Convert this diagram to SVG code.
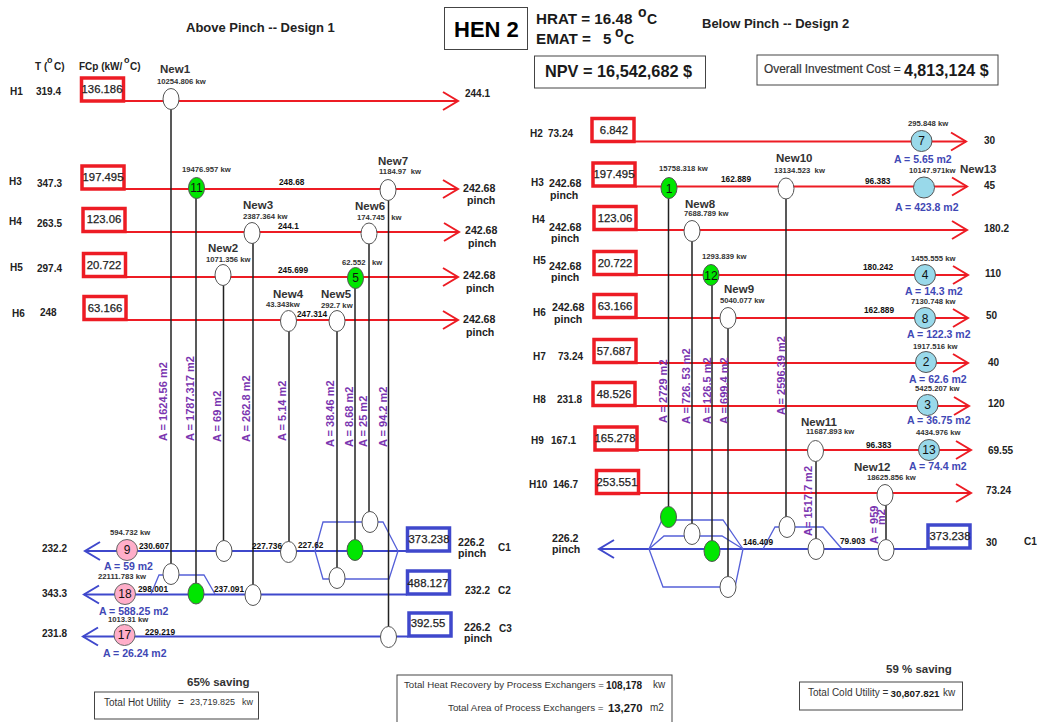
<svg xmlns="http://www.w3.org/2000/svg" width="1038" height="722" viewBox="0 0 1038 722">
<style>
text{font-family:"Liberation Sans",Arial,sans-serif;fill:#1a1a1a;white-space:pre}
.b{font-weight:bold}
.t{font-size:13px;font-weight:bold;fill:#222}
.s{font-size:10px;font-weight:bold;fill:#222}
.q{font-size:10.6px;font-weight:bold;fill:#222}
.k{font-size:7.7px;font-weight:bold;fill:#333}
.n{font-size:11.5px;font-weight:bold;fill:#333}
.m{font-size:8.3px;font-weight:bold;fill:#111}
.a{font-size:10.5px;font-weight:bold;fill:#3F48B5}
.p{font-size:11px;font-weight:bold;fill:#7A35B0}
.f{font-size:11.300px;fill:#222;stroke:#222;stroke-width:.25;text-anchor:middle}
.e{font-size:12px;text-anchor:middle;fill:#111}
.l{font-size:10px;fill:#333}
.r{fill:#fff;stroke:#ED1C24;stroke-width:3.5}
.u{fill:#fff;stroke:#3F48CC;stroke-width:3.5}
.x{fill:#fff;stroke:#444;stroke-width:1}
.hot{stroke:#ED1C24;stroke-width:2;fill:none;marker-end:url(#ra)}
.cold{stroke:#3F48CC;stroke-width:2;fill:none;marker-end:url(#ba)}
.byp{stroke:#5560D8;stroke-width:1.3;fill:none}
.link{stroke:#222;stroke-width:1.5;fill:none}
.w{fill:#fff;stroke:#555;stroke-width:1}
.g{fill:#00E600;stroke:#555;stroke-width:1}
.pk{fill:#FFAEC9;stroke:#666;stroke-width:1}
.c{fill:#99D9EA;stroke:#555;stroke-width:1}
</style>
<defs>
<marker id="ra" markerUnits="userSpaceOnUse" markerWidth="20" markerHeight="22" viewBox="-17 -11 20 22" refX="0" refY="0" orient="auto"><path d="M-15,-9 L0,0 L-15,9" fill="none" stroke="#ED1C24" stroke-width="2"/></marker>
<marker id="ba" markerUnits="userSpaceOnUse" markerWidth="20" markerHeight="22" viewBox="-17 -11 20 22" refX="0" refY="0" orient="auto"><path d="M-15,-9 L0,0 L-15,9" fill="none" stroke="#3F48CC" stroke-width="2"/></marker>
</defs>
<rect width="1038" height="722" fill="#fff"/>

<g id="connectors">
<line class="hot" x1="124" y1="101" x2="458" y2="101"/>
<line class="hot" x1="124" y1="189" x2="458" y2="189"/>
<line class="hot" x1="125" y1="232" x2="459" y2="232"/>
<line class="hot" x1="126" y1="277" x2="458" y2="277"/>
<line class="hot" x1="126" y1="320" x2="458" y2="320"/>
<line class="cold" x1="407" y1="551" x2="85" y2="551"/>
<line class="cold" x1="407" y1="594.5" x2="84" y2="594.5"/>
<line class="cold" x1="408" y1="636.5" x2="83" y2="636.5"/>
<polygon class="byp" points="315,551 323,522 383,522 398,551 389,579 323,579"/>
<polyline class="byp" points="151,594 159,575 204,575 215,594"/>
<line class="link" x1="171" y1="99" x2="171" y2="574"/>
<line class="link" x1="196" y1="188" x2="196" y2="594"/>
<line class="link" x1="223.500" y1="275" x2="223.500" y2="551"/>
<line class="link" x1="253" y1="233" x2="253" y2="595"/>
<line class="link" x1="289" y1="321" x2="289" y2="552"/>
<line class="link" x1="337" y1="321" x2="337" y2="578"/>
<line class="link" x1="355" y1="278" x2="355" y2="550"/>
<line class="link" x1="369" y1="233" x2="369" y2="522"/>
<line class="link" x1="388.500" y1="190" x2="388.500" y2="637"/>

<line class="hot" x1="635" y1="141.500" x2="966" y2="141.500"/>
<line class="hot" x1="636" y1="186.500" x2="967" y2="186.500"/>
<line class="hot" x1="637" y1="230" x2="967" y2="230"/>
<line class="hot" x1="637" y1="275" x2="968" y2="275"/>
<line class="hot" x1="637" y1="318" x2="968" y2="318"/>
<line class="hot" x1="637" y1="363" x2="968" y2="363"/>
<line class="hot" x1="636" y1="406" x2="969" y2="406"/>
<line class="hot" x1="637" y1="450" x2="971" y2="450"/>
<line class="hot" x1="639" y1="493" x2="971" y2="493"/>
<line class="cold" x1="927" y1="549" x2="599" y2="549"/>
<polyline class="byp" points="649,549 662,520 723,520 743,549"/>
<polyline class="byp" points="649,549 664,536 722,536 743,549"/>
<polyline class="byp" points="649,549 663,587 735,587 743,549"/>
<polyline class="byp" points="763,549 775,527 823,527 842,549"/>
<line class="link" x1="668.500" y1="188" x2="668.500" y2="517"/>
<line class="link" x1="692" y1="231" x2="692" y2="534"/>
<line class="link" x1="712" y1="275" x2="712" y2="551"/>
<line class="link" x1="728" y1="318" x2="728" y2="587"/>
<line class="link" x1="786" y1="188" x2="786" y2="527"/>
<line class="link" x1="816" y1="451" x2="816" y2="549"/>
<line class="link" x1="886" y1="495" x2="886" y2="550"/>
</g>

<g id="headers">
<text class="t" x="186" y="32">Above Pinch -- Design 1</text>
<text class="t" x="702" y="28">Below Pinch -- Design 2</text>
<text class="s" x="35" y="70">T (</text><text class="s" x="47" y="63" style="font-size:9px">o</text><text class="s" x="54" y="70">C)</text>
<text class="s" x="79" y="70">FCp (kW/</text><text class="s" x="124" y="63" style="font-size:9px">o</text><text class="s" x="130" y="70">C)</text>
</g>

<g id="hen"><rect class="x" x="444.500" y="7.500" width="83" height="42"/><text x="454" y="37" class="b" font-size="22" style="fill:#000">HEN 2</text></g>
<g id="hrat"><text class="b" x="536" y="24" font-size="15.200">HRAT = 16.48</text><text class="b" x="638" y="17" font-size="14">o</text><text class="b" x="647" y="24" font-size="14">C</text>
<text class="b" x="536" y="44" font-size="15.200">EMAT =</text><text class="b" x="603" y="44" font-size="15">5</text><text class="b" x="615" y="37" font-size="14">o</text><text class="b" x="624" y="44" font-size="14">C</text></g>
<g id="npv"><rect class="x" x="534.500" y="56" width="171" height="32"/><text class="b" x="545" y="77" font-size="16.300">NPV = 16,542,682 $</text></g>
<g id="cost"><rect class="x" x="757" y="55" width="241" height="30"/><text x="764" y="73" font-size="11.850" style="fill:#333;stroke:#333;stroke-width:.2">Overall Investment Cost =</text><text class="b" x="904" y="76" font-size="16">4,813,124 $</text></g>

<g id="H1"><rect class="r" x="81.500" y="78" width="42" height="23"/><text class="f" x="102" y="93">136.186</text><text class="s" x="10" y="95">H1</text><text class="s" x="36" y="95">319.4</text><text class="s" x="465" y="97">244.1</text></g>
<g id="H3L"><rect class="r" x="82" y="166" width="42" height="23"/><text class="f" x="103" y="181">197.495</text><text class="s" x="9" y="185">H3</text><text class="s" x="37" y="187">347.3</text><text class="q" x="463" y="192">242.68</text><text class="q" x="467" y="204">pinch</text></g>
<g id="H4L"><rect class="r" x="83" y="208.500" width="42" height="23"/><text class="f" x="104" y="223">123.06</text><text class="s" x="9" y="225">H4</text><text class="s" x="37" y="227">263.5</text><text class="q" x="465" y="234">242.68</text><text class="q" x="468" y="247">pinch</text></g>
<g id="H5L"><rect class="r" x="83.500" y="253.500" width="42" height="23"/><text class="f" x="104" y="269">20.722</text><text class="s" x="10" y="271">H5</text><text class="s" x="37" y="272">297.4</text><text class="q" x="463" y="279">242.68</text><text class="q" x="466" y="292">pinch</text></g>
<g id="H6L"><rect class="r" x="84" y="296.500" width="42" height="23"/><text class="f" x="105" y="312">63.166</text><text class="s" x="12" y="317">H6</text><text class="s" x="40" y="316">248</text><text class="q" x="463" y="323">242.68</text><text class="q" x="466" y="336">pinch</text></g>

<g id="C1L"><rect class="u" x="407.500" y="528" width="42" height="23"/><text class="f" x="429" y="543">373.238</text><text class="q" x="458" y="546">226.2</text><text class="q" x="458" y="557">pinch</text><text class="s" x="498" y="551">C1</text><text class="s" x="42" y="552">232.2</text></g>
<g id="C2L"><rect class="u" x="407.500" y="571" width="42" height="23"/><text class="f" x="428" y="587">488.127</text><text class="s" x="465" y="594">232.2</text><text class="s" x="498" y="594">C2</text><text class="s" x="42" y="597">343.3</text></g>
<g id="C3L"><rect class="u" x="409" y="613" width="42" height="23"/><text class="f" x="428" y="627">392.55</text><text class="q" x="464" y="631">226.2</text><text class="q" x="464" y="642">pinch</text><text class="s" x="499" y="632">C3</text><text class="s" x="42" y="637">231.8</text></g>

<g id="New1"><ellipse class="w" cx="171" cy="99" rx="8" ry="10.500"/><text class="n" x="160" y="73">New1</text><text class="k" x="157" y="84">10254.806 kw</text></g>
<g id="E11"><ellipse class="g" cx="196.500" cy="188" rx="8" ry="10.500"/><text class="e" x="196.500" y="192">11</text><text class="k" x="182" y="172">19476.957 kw</text></g>
<g id="New7"><ellipse class="w" cx="388" cy="190" rx="8" ry="10.500"/><text class="n" x="378" y="165">New7</text><text class="k" x="379" y="174">1184.97  kw</text></g>
<g id="New3"><ellipse class="w" cx="252" cy="233" rx="8" ry="10.500"/><text class="n" x="243" y="209">New3</text><text class="k" x="243" y="219">2387.364 kw</text></g>
<g id="New6"><ellipse class="w" cx="369" cy="233.500" rx="8" ry="10.500"/><text class="n" x="355" y="210">New6</text><text class="k" x="357" y="220">174.745   kw</text></g>
<g id="New2"><ellipse class="w" cx="223" cy="275" rx="8" ry="10.500"/><text class="n" x="208" y="252">New2</text><text class="k" x="206" y="262">1071.356 kw</text></g>
<g id="E5"><ellipse class="g" cx="355.500" cy="278" rx="8" ry="10.500"/><text class="e" x="355.500" y="282">5</text><text class="k" x="342" y="265">62.552   kw</text></g>
<g id="New4"><ellipse class="w" cx="288.500" cy="321" rx="8" ry="10.500"/><text class="n" x="273" y="298">New4</text><text class="k" x="266" y="307">43.343kw</text></g>
<g id="New5"><ellipse class="w" cx="337" cy="321" rx="8" ry="10.500"/><text class="n" x="321" y="298">New5</text><text class="k" x="321" y="308">292.7 kw</text></g>

<g id="E9"><circle class="pk" cx="127" cy="550" r="10.500"/><text class="e" x="127" y="554">9</text><text class="k" x="110" y="535">594.732 kw</text><text class="a" x="104" y="570">A = 59 m2</text></g>
<g id="E18"><circle class="pk" cx="125" cy="594" r="10.500"/><text class="e" x="125" y="598">18</text><text class="k" x="98" y="579">22111.783 kw</text><text class="a" x="99" y="615">A = 588.25 m2</text></g>
<g id="E17"><circle class="pk" cx="124.500" cy="635" r="10.500"/><text class="e" x="124.500" y="639">17</text><text class="k" x="108" y="622">1013.31 kw</text><text class="a" x="103" y="657">A = 26.24 m2</text></g>
<g id="L1"><ellipse class="w" cx="224" cy="551" rx="8" ry="10.500"/></g>
<g id="L2"><ellipse class="w" cx="288.500" cy="552" rx="8" ry="10.500"/></g>
<g id="L3"><ellipse class="g" cx="355" cy="550" rx="8" ry="10.500"/></g>
<g id="L4"><ellipse class="w" cx="370" cy="522" rx="8" ry="10.500"/></g>
<g id="L5"><ellipse class="w" cx="337" cy="578" rx="8" ry="10.500"/></g>
<g id="L6"><ellipse class="w" cx="171" cy="574" rx="8" ry="10.500"/></g>
<g id="L7"><ellipse class="g" cx="196" cy="593.500" rx="8" ry="10.500"/></g>
<g id="L8"><ellipse class="w" cx="253" cy="595" rx="8" ry="10.500"/></g>
<g id="L9"><ellipse class="w" cx="388.500" cy="637" rx="8" ry="10.500"/></g>

<g id="temps-left">
<text class="m" x="279" y="185">248.68</text><text class="m" x="278" y="229">244.1</text><text class="m" x="278" y="273">245.699</text><text class="m" x="297" y="317">247.314</text>
<text class="m" x="139" y="549">230.607</text><text class="m" x="252" y="549">227.736</text><text class="m" x="298" y="548">227.62</text>
<text class="m" x="138" y="592">298.001</text><text class="m" x="214" y="592">237.091</text><text class="m" x="145" y="635">229.219</text>
</g>
<g id="areas-left">
<text class="p" transform="rotate(-90 167 441)" x="167" y="441">A = 1624.56 m2</text>
<text class="p" transform="rotate(-90 194 441)" x="194" y="441">A = 1787.317 m2</text>
<text class="p" transform="rotate(-90 221 442)" x="221" y="442">A = 69 m2</text>
<text class="p" transform="rotate(-90 250 442)" x="250" y="442">A = 262.8 m2</text>
<text class="p" transform="rotate(-90 286 441)" x="286" y="441">A = 5.14 m2</text>
<text class="p" transform="rotate(-90 334 447)" x="334" y="447">A = 38.46 m2</text>
<text class="p" transform="rotate(-90 353 447)" x="353" y="447">A = 8.68 m2</text>
<text class="p" transform="rotate(-90 367 447)" x="367" y="447">A = 25 m2</text>
<text class="p" transform="rotate(-90 387 447)" x="387" y="447">A = 94.2 m2</text>
</g>

<g id="H2"><rect class="r" x="592" y="118.500" width="42" height="23"/><text class="f" x="614" y="134">6.842</text><text class="s" x="530" y="137">H2</text><text class="s" x="548" y="137">73.24</text><text class="s" x="984" y="144">30</text></g>
<g id="H3R"><rect class="r" x="593" y="163" width="42" height="23"/><text class="f" x="614" y="178">197.495</text><text class="s" x="531" y="186">H3</text><text class="q" x="549" y="187">242.68</text><text class="q" x="550" y="199">pinch</text><text class="s" x="984" y="189">45</text></g>
<g id="H4R"><rect class="r" x="594" y="206.500" width="42" height="23"/><text class="f" x="615" y="222">123.06</text><text class="s" x="532" y="223">H4</text><text class="q" x="549" y="231">242.68</text><text class="q" x="551" y="242">pinch</text><text class="s" x="984" y="232">180.2</text></g>
<g id="H5R"><rect class="r" x="594" y="251.500" width="42" height="23"/><text class="f" x="615" y="267">20.722</text><text class="s" x="533" y="264">H5</text><text class="q" x="549" y="270">242.68</text><text class="q" x="551" y="281">pinch</text><text class="s" x="985" y="277">110</text></g>
<g id="H6R"><rect class="r" x="594" y="294.500" width="42" height="23"/><text class="f" x="615" y="310">63.166</text><text class="s" x="533" y="316">H6</text><text class="q" x="552" y="311">242.68</text><text class="q" x="554" y="323">pinch</text><text class="s" x="986" y="319">50</text></g>
<g id="H7"><rect class="r" x="594" y="339.500" width="42" height="23"/><text class="f" x="614" y="355">57.687</text><text class="s" x="533" y="360">H7</text><text class="s" x="558" y="360">73.24</text><text class="s" x="988" y="366">40</text></g>
<g id="H8"><rect class="r" x="593" y="382.500" width="42" height="23"/><text class="f" x="614" y="398">48.526</text><text class="s" x="533" y="403">H8</text><text class="s" x="557" y="403">231.8</text><text class="s" x="988" y="407">120</text></g>
<g id="H9"><rect class="r" x="595" y="427" width="42" height="23"/><text class="f" x="615" y="442">165.278</text><text class="s" x="531" y="444">H9</text><text class="s" x="551" y="444">167.1</text><text class="s" x="988" y="454">69.55</text></g>
<g id="H10"><rect class="r" x="596.500" y="470.500" width="42" height="23"/><text class="f" x="617" y="486">253.551</text><text class="s" x="529" y="488">H10</text><text class="s" x="553" y="488">146.7</text><text class="s" x="986" y="494">73.24</text></g>
<g id="C1R"><rect class="u" x="928" y="525" width="42" height="23"/><text class="f" x="950" y="540">373.238</text><text class="q" x="552" y="542">226.2</text><text class="q" x="552" y="553">pinch</text><text class="s" x="986" y="546">30</text><text class="s" x="1024" y="545">C1</text></g>

<g id="E1"><ellipse class="g" cx="669" cy="188" rx="8" ry="10.500"/><text class="e" x="669" y="193">1</text><text class="k" x="659" y="171">15758.318 kw</text></g>
<g id="New10"><ellipse class="w" cx="786" cy="188.500" rx="8" ry="10.500"/><text class="n" x="776" y="162">New10</text><text class="k" x="774" y="173">13134.523  kw</text></g>
<g id="E13"><circle class="c" cx="924" cy="187.500" r="10.500"/><text class="k" x="909" y="173">10147.971kw</text><text class="n" x="960" y="173">New13</text><text class="a" x="895" y="211">A = 423.8 m2</text></g>
<g id="E7"><circle class="c" cx="921.500" cy="141" r="10.500"/><text class="e" x="921.500" y="145">7</text><text class="k" x="908" y="126">295.848 kw</text><text class="a" x="894" y="163">A = 5.65 m2</text></g>
<g id="New8"><ellipse class="w" cx="692" cy="231" rx="8" ry="10.500"/><text class="n" x="685" y="208">New8</text><text class="k" x="684" y="216">7688.789 kw</text></g>
<g id="E12"><ellipse class="g" cx="711" cy="275" rx="8" ry="10.500"/><text class="e" x="711" y="280">12</text><text class="k" x="702" y="259">1293.839 kw</text></g>
<g id="E4"><circle class="c" cx="925" cy="275" r="10.500"/><text class="e" x="925" y="279">4</text><text class="k" x="911" y="261">1455.555 kw</text><text class="a" x="905" y="295">A = 14.3 m2</text></g>
<g id="New9"><ellipse class="w" cx="728" cy="318" rx="8" ry="10.500"/><text class="n" x="724" y="293">New9</text><text class="k" x="720" y="303">5040.077 kw</text></g>
<g id="E8"><circle class="c" cx="925" cy="318" r="10.500"/><text class="e" x="925" y="323">8</text><text class="k" x="911" y="304">7130.748 kw</text><text class="a" x="907" y="338">A = 122.3 m2</text></g>
<g id="E2"><circle class="c" cx="926" cy="362" r="10.500"/><text class="e" x="926" y="366">2</text><text class="k" x="913" y="349">1917.516 kw</text><text class="a" x="909" y="383">A = 62.6 m2</text></g>
<g id="E3"><circle class="c" cx="927.500" cy="405" r="10.500"/><text class="e" x="927.500" y="409">3</text><text class="k" x="915" y="391">5425.207 kw</text><text class="a" x="907" y="424">A = 36.75 m2</text></g>
<g id="E13b"><circle class="c" cx="929" cy="450" r="10.500"/><text class="e" x="929" y="454">13</text><text class="k" x="916" y="435">4434.976 kw</text><text class="a" x="909" y="470">A = 74.4 m2</text></g>
<g id="New11"><ellipse class="w" cx="815.500" cy="451" rx="8" ry="10.500"/><text class="n" x="801" y="426">New11</text><text class="k" x="806" y="434">11687.893 kw</text></g>
<g id="New12"><ellipse class="w" cx="885" cy="495" rx="8" ry="10.500"/><text class="n" x="854" y="471">New12</text><text class="k" x="867" y="480">18625.856 kw</text></g>
<g id="R1"><ellipse class="g" cx="668.500" cy="517" rx="8" ry="10.500"/></g>
<g id="R2"><ellipse class="w" cx="692" cy="534" rx="8" ry="10.500"/></g>
<g id="R3"><ellipse class="g" cx="712" cy="551" rx="8" ry="10.500"/></g>
<g id="R4"><ellipse class="w" cx="728" cy="587" rx="8" ry="10.500"/></g>
<g id="R5"><ellipse class="w" cx="787" cy="527" rx="8" ry="10.500"/></g>
<g id="R6"><ellipse class="w" cx="816" cy="549" rx="8" ry="10.500"/></g>
<g id="R7"><ellipse class="w" cx="886" cy="550" rx="8" ry="10.500"/></g>

<g id="temps-right">
<text class="m" x="721" y="182">162.889</text><text class="m" x="865" y="184">96.383</text><text class="m" x="863" y="270">180.242</text><text class="m" x="864" y="313">162.889</text>
<text class="m" x="866" y="448">96.383</text><text class="m" x="743" y="545">146.409</text><text class="m" x="840" y="544">79.903</text>
</g>
<g id="areas-right">
<text class="p" transform="rotate(-90 667 423)" x="667" y="423">A = 2729 m2</text>
<text class="p" transform="rotate(-90 690 424)" x="690" y="424">A = 726. 53 m2</text>
<text class="p" transform="rotate(-90 711 424)" x="711" y="424">A = 126.5 m2</text>
<text class="p" transform="rotate(-90 728 424)" x="728" y="424">A = 699.4 m2</text>
<text class="p" transform="rotate(-90 785 415)" x="785" y="415">A = 2596.39 m2</text>
<text class="p" transform="rotate(-90 812 536)" x="812" y="536">A= 1517.7 m2</text>
<text class="p" transform="rotate(-90 878 544)" x="878" y="544">A = 959</text>
<text class="p" transform="rotate(-90 885 525)" x="885" y="525">m2</text>
</g>

<g id="hot-utility"><text class="n" x="187" y="686">65% saving</text><rect class="x" x="94.500" y="692" width="164" height="27"/><text class="l" x="104" y="706">Total Hot Utility</text><text class="l" x="178" y="706">=</text><text class="l" x="190" y="705" style="font-size:9px">23,719.825</text><text class="l" x="242" y="705" style="font-size:9px">kw</text></g>
<g id="recovery"><rect class="x" x="397" y="675" width="275" height="48"/><text class="l" x="404" y="688" style="font-size:9.700px">Total Heat Recovery by Process Exchangers =</text><text class="b" x="606" y="689" font-size="10">108,178</text><text class="l" x="653" y="688">kw</text><text class="l" x="448" y="711" style="font-size:9.800px">Total Area of Process Exchangers =</text><text class="b" x="608" y="712" font-size="11.300">13,270</text><text class="l" x="650" y="711">m2</text></g>
<g id="cold-utility"><text class="n" x="886" y="673">59 % saving</text><rect class="x" x="799.500" y="682" width="163" height="28"/><text class="l" x="808" y="696">Total Cold Utility =</text><text class="b" x="890.500" y="697" font-size="9.800">30,807.821</text><text class="l" x="943" y="696">kw</text></g>
</svg>
